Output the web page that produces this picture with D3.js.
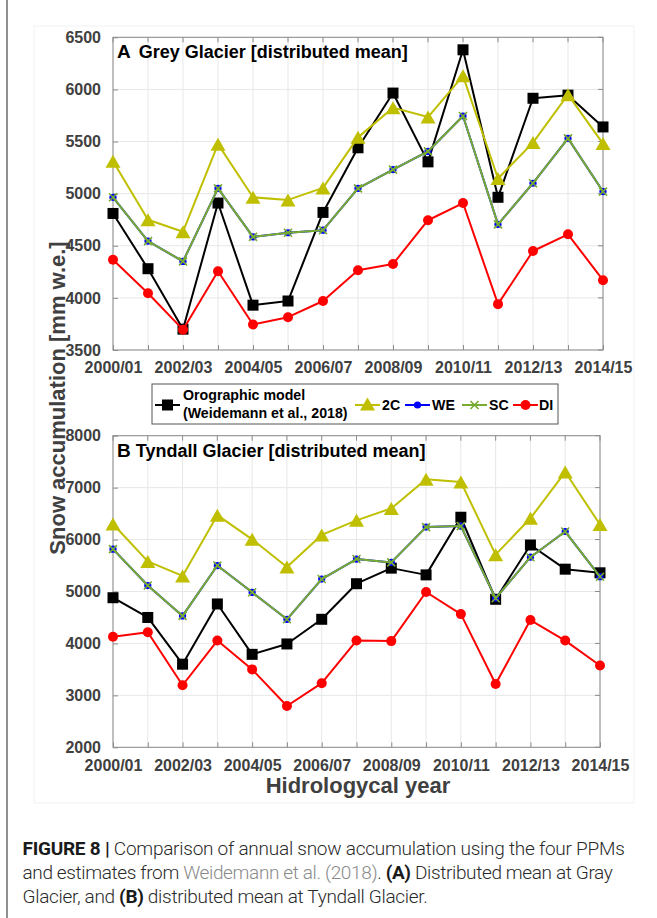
<!DOCTYPE html>
<html>
<head>
<meta charset="utf-8">
<script src="https://cdn.jsdelivr.net/npm/d3@7"></script>
<style>
  html, body { margin: 0; padding: 0; background: #fff; }
  svg { display: block; }
</style>
</head>
<body>
<svg id="fig" width="657" height="918"></svg>
<script>
// Hydrological years (x categories) and labelled ticks
const years = ["2000/01","2001/02","2002/03","2003/04","2004/05","2005/06","2006/07","2007/08",
               "2008/09","2009/10","2010/11","2011/12","2012/13","2013/14","2014/15"];
const xTickLabels = ["2000/01","2002/03","2004/05","2006/07","2008/09","2010/11","2012/13","2014/15"];

// Grey Glacier, distributed mean snow accumulation [mm w.e.]
const greyOrographic = [4810,4280,3700,4910,3930,3970,4820,5440,5965,5305,6380,4965,5915,5945,5640];
const grey2C         = [5310,4750,4635,5475,4965,4940,5055,5540,5825,5735,6130,5145,5490,5950,5480];
const greyWE         = [4965,4545,4350,5050,4585,4625,4650,5050,5230,5405,5745,4705,5100,5530,5020];
const greySC         = [4965,4545,4350,5050,4585,4625,4650,5050,5230,5405,5745,4705,5100,5530,5020];
const greyDI         = [4365,4045,3695,4255,3745,3815,3970,4265,4325,4745,4910,3940,4450,4610,4170];
const greyTicks      = [3500,4000,4500,5000,5500,6000,6500];

// Tyndall Glacier, distributed mean snow accumulation [mm w.e.]
const tyndallOrographic = [4880,4500,3600,4760,3790,3990,4465,5150,5450,5320,6430,4850,5895,5430,5360];
const tyndall2C         = [6300,5580,5300,6470,6005,5470,6090,6370,6600,7160,7110,5710,6410,7300,6290];
const tyndallWE         = [5815,5115,4530,5500,4985,4465,5240,5625,5560,6240,6260,4870,5660,6155,5285];
const tyndallSC         = [5815,5115,4530,5500,4985,4465,5240,5625,5560,6240,6260,4870,5660,6155,5285];
const tyndallDI         = [4130,4215,3195,4055,3500,2795,3235,4055,4045,4990,4565,3220,4450,4055,3575];
const tyndallTicks      = [2000,3000,4000,5000,6000,7000,8000];

const legendNames = ["2C","WE","SC","DI"];

const COL = { oro: "#000000", c2: "#BFBF00", we: "#0000FF", sc: "#77AC30", di: "#FF0000" };
const AXIS = "#8c8c8c", GRID = "#e7e7e7", TICKTXT = "#404040";
const FONT = "Arial, 'Liberation Sans', Helvetica, sans-serif";

const svg = d3.select("#fig");

// page margin rule and figure frame
svg.append("line").attr("x1", 7).attr("x2", 7).attr("y1", 0).attr("y2", 918)
   .attr("stroke", "#8f8f8f").attr("stroke-width", 2);
svg.append("rect").attr("x", 34).attr("y", 26).attr("width", 600).attr("height", 777)
   .attr("fill", "none").attr("stroke", "#f1f1f1").attr("stroke-width", 1);

// marker painters
function square(g, x, y, s) {
  g.append("rect").attr("x", x - s / 2).attr("y", y - s / 2).attr("width", s).attr("height", s)
   .attr("fill", COL.oro);
}
function triangle(g, x, y) {
  const w = 15, h = 13;
  g.append("path").attr("d", `M${x},${y - h / 2}L${x + w / 2},${y + h / 2}L${x - w / 2},${y + h / 2}Z`)
   .attr("fill", COL.c2);
}
function dot(g, x, y, r, c) {
  g.append("circle").attr("cx", x).attr("cy", y).attr("r", r).attr("fill", c);
}
function cross(g, x, y) {
  const a = 4;
  g.append("path").attr("d", `M${x - a},${y - a}L${x + a},${y + a}M${x - a},${y + a}L${x + a},${y - a}`)
   .attr("stroke", COL.sc).attr("stroke-width", 1.6).attr("fill", "none");
}

function panel(opts) {
  const { x0, x1, yTop, yBot, domain, ticks, letter, gap, title, series } = opts;
  const x = d3.scalePoint().domain(years).range([x0, x1]);
  const y = d3.scaleLinear().domain(domain).range([yBot, yTop]);
  const g = svg.append("g");

  // grid
  g.selectAll(".vg").data(years).join("line")
    .attr("x1", d => x(d)).attr("x2", d => x(d)).attr("y1", yTop).attr("y2", yBot)
    .attr("stroke", GRID);
  g.selectAll(".hg").data(ticks).join("line")
    .attr("x1", x0).attr("x2", x1).attr("y1", d => y(d)).attr("y2", d => y(d))
    .attr("stroke", GRID);

  // axes (left/bottom with D3 axis generators, inward ticks)
  const yAxis = d3.axisLeft(y).tickValues(ticks).tickSize(-5).tickPadding(12).tickFormat(d3.format("d"));
  const ga = g.append("g").attr("transform", `translate(${x0},0)`).call(yAxis);
  const xAxis = d3.axisBottom(x).tickSize(-5).tickPadding(12)
    .tickFormat(d => xTickLabels.includes(d) ? d : "");
  const gb = g.append("g").attr("transform", `translate(0,${yBot})`).call(xAxis);
  [ga, gb].forEach(a => {
    a.select(".domain").remove();
    a.selectAll(".tick line").attr("stroke", AXIS);
    a.selectAll("text").attr("fill", TICKTXT).attr("font-family", FONT)
      .attr("font-weight", "bold").attr("font-size", 16);
  });
  gb.selectAll("text").attr("dy", "0.71em");
  // top / right ticks
  g.selectAll(".tt").data(years).join("line")
    .attr("x1", d => x(d)).attr("x2", d => x(d)).attr("y1", yTop).attr("y2", yTop + 5).attr("stroke", AXIS);
  g.selectAll(".rt").data(ticks).join("line")
    .attr("x1", x1 - 5).attr("x2", x1).attr("y1", d => y(d)).attr("y2", d => y(d)).attr("stroke", AXIS);
  g.append("rect").attr("x", x0).attr("y", yTop).attr("width", x1 - x0).attr("height", yBot - yTop)
    .attr("fill", "none").attr("stroke", AXIS).attr("stroke-width", 1);

  const line = d3.line().x((d, i) => x(years[i])).y(d => y(d));
  const path = (vals, c) => g.append("path").attr("d", line(vals)).attr("fill", "none")
    .attr("stroke", c).attr("stroke-width", 2).attr("stroke-linejoin", "round");

  // Orographic model
  path(series.oro, COL.oro);
  series.oro.forEach((v, i) => square(g, x(years[i]), y(v), 11));
  // 2C
  path(series.c2, COL.c2);
  series.c2.forEach((v, i) => triangle(g, x(years[i]), y(v)));
  // WE
  path(series.we, COL.we);
  series.we.forEach((v, i) => dot(g, x(years[i]), y(v), 3.6, COL.we));
  // SC
  path(series.sc, COL.sc);
  series.sc.forEach((v, i) => cross(g, x(years[i]), y(v)));
  // DI
  path(series.di, COL.di);
  series.di.forEach((v, i) => dot(g, x(years[i]), y(v), 5, COL.di));

  // panel title
  const t = g.append("text").attr("x", x0 + 4).attr("y", yTop + 21)
    .attr("font-family", FONT).attr("font-weight", "bold").attr("fill", "#000");
  t.append("tspan").attr("font-size", 19).text(letter);
  t.append("tspan").attr("font-size", 18).attr("dx", gap).text(title);
}

panel({
  x0: 113, x1: 603, yTop: 37.3, yBot: 350, domain: [3500, 6500], ticks: greyTicks,
  letter: "A", gap: 8, title: "Grey Glacier [distributed mean]",
  series: { oro: greyOrographic, c2: grey2C, we: greyWE, sc: greySC, di: greyDI }
});
panel({
  x0: 113, x1: 600, yTop: 435.7, yBot: 747.3, domain: [2000, 8000], ticks: tyndallTicks,
  letter: "B", gap: 5, title: "Tyndall Glacier [distributed mean]",
  series: { oro: tyndallOrographic, c2: tyndall2C, we: tyndallWE, sc: tyndallSC, di: tyndallDI }
});

// shared axis titles
svg.append("text").attr("transform", "translate(65,398) rotate(-90)")
  .attr("text-anchor", "middle").attr("font-family", FONT).attr("font-weight", "bold")
  .attr("font-size", 22).attr("fill", TICKTXT).text("Snow accumulation [mm w.e.]");
svg.append("text").attr("x", 358).attr("y", 793)
  .attr("text-anchor", "middle").attr("font-family", FONT).attr("font-weight", "bold")
  .attr("font-size", 22).attr("fill", TICKTXT).text("Hidrologycal year");

// legend
const lg = svg.append("g");
lg.append("rect").attr("x", 152).attr("y", 384).attr("width", 406).attr("height", 40)
  .attr("fill", "#fff").attr("stroke", "#555").attr("stroke-width", 1);
const ly = 405;
const lseg = (a, b, c) => lg.append("line").attr("x1", a).attr("x2", b).attr("y1", ly).attr("y2", ly)
  .attr("stroke", c).attr("stroke-width", 2);
lseg(155, 180, COL.oro); square(lg, 167.5, ly, 11);
lseg(355, 380, COL.c2); triangle(lg, 367.5, ly - 1);
lseg(405, 430, COL.we); dot(lg, 417.5, ly, 3.6, COL.we);
lseg(462, 487, COL.sc); cross(lg, 474.5, ly);
lseg(513, 538, COL.di); dot(lg, 525.5, ly, 5, COL.di);
const ltxt = (tx, tyy, s) => lg.append("text").attr("x", tx).attr("y", tyy)
  .attr("font-family", FONT).attr("font-weight", "bold").attr("font-size", 14.2).attr("fill", "#000").text(s);
ltxt(183, 400, "Orographic model");
ltxt(183, 418, "(Weidemann et al., 2018)");
[[382, legendNames[0]], [432, legendNames[1]], [489, legendNames[2]], [539, legendNames[3]]]
  .forEach(([tx, s]) => ltxt(tx, 410, s));

// caption: each line is widened to its column width with letter spacing
const CAPFONT = "Roboto, 'Liberation Sans', Arial, sans-serif";
function capLine(yb, width, parts) {
  const t = svg.append("text").attr("x", 22.5).attr("y", yb).attr("font-family", CAPFONT)
    .attr("font-size", 19).attr("fill", "#2a2a2a").attr("font-weight", 300);
  parts.forEach(p => {
    const s = t.append("tspan").text(p.t);
    if (p.b) s.attr("font-weight", 700).attr("fill", "#1a1a1a");
    if (p.g) s.attr("fill", "#8a8a8a");
  });
  const n = parts.map(p => p.t).join("").length;
  const w = t.node().getComputedTextLength();
  t.attr("letter-spacing", ((width - w) / n).toFixed(3));
}
capLine(855, 602, [{ t: "FIGURE 8 |", b: true }, { t: " Comparison of annual snow accumulation using the four PPMs" }]);
capLine(879, 590, [{ t: "and estimates from " }, { t: "Weidemann et al. (2018)", g: true }, { t: ". " },
                   { t: "(A)", b: true }, { t: " Distributed mean at Gray" }]);
capLine(903, 405, [{ t: "Glacier, and " }, { t: "(B)", b: true }, { t: " distributed mean at Tyndall Glacier." }]);
</script>
</body>
</html>
